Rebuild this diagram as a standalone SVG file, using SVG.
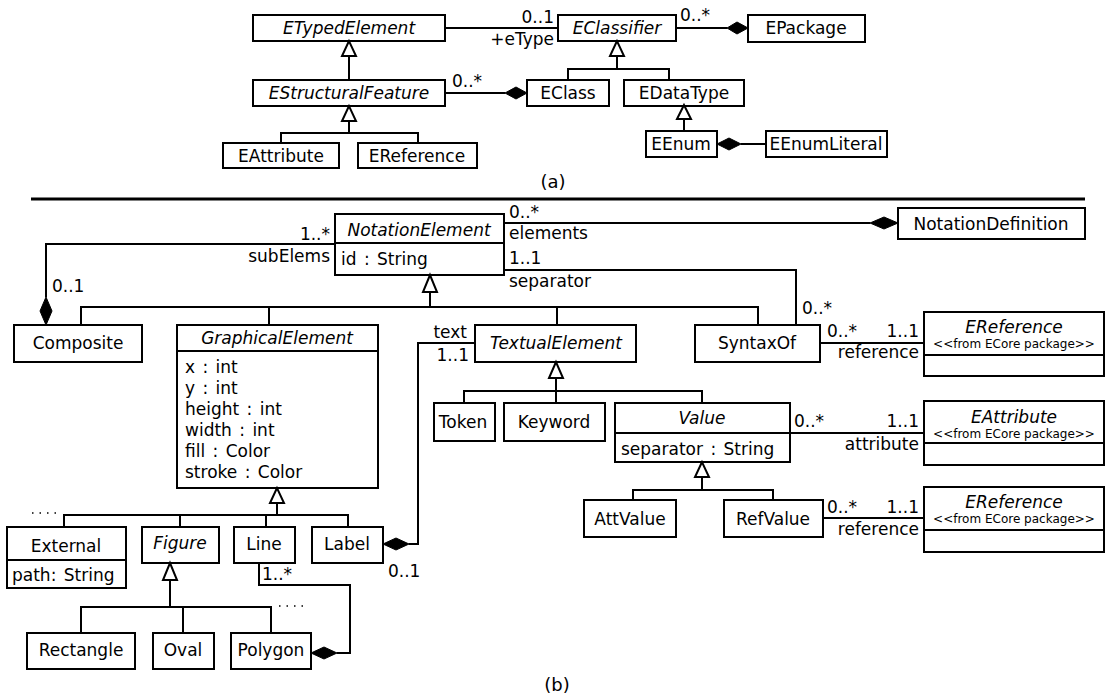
<svg xmlns="http://www.w3.org/2000/svg" width="1113" height="696" viewBox="0 0 1113 696">
<style>
.box{fill:#fff;stroke:#000;stroke-width:2}
.ln{fill:none;stroke:#000;stroke-width:2}
.tri{fill:#fff;stroke:#000;stroke-width:2;stroke-linejoin:miter}
.dia{fill:#000;stroke:#000;stroke-width:1}
text{font-family:"DejaVu Sans",Verdana,sans-serif;font-size:17px;fill:#000}
.i{font-style:italic}
.c{text-anchor:middle}
.r{text-anchor:end}
.st{font-size:12px}
.at{word-spacing:2px}
.dots{fill:none;stroke:#000;stroke-width:1.5;stroke-dasharray:1.5 6}
</style>
<rect width="1113" height="696" fill="#fff"/>

<!-- ===== (a) ===== -->
<g id="ETypedElement"><rect class="box" x="253" y="15" width="192" height="26"/><text class="c i" x="349" y="34">ETypedElement</text></g>
<g id="EClassifier"><rect class="box" x="558" y="15" width="118" height="26"/><text class="c i" x="617" y="34">EClassifier</text></g>
<g id="EPackage"><rect class="box" x="748" y="15" width="117" height="27"/><text class="c" x="806" y="34">EPackage</text></g>
<g id="EStructuralFeature"><rect class="box" x="253" y="80" width="192" height="26"/><text class="c i" x="349" y="99">EStructuralFeature</text></g>
<g id="EClass"><rect class="box" x="527" y="80" width="82" height="26"/><text class="c" x="568" y="99">EClass</text></g>
<g id="EDataType"><rect class="box" x="624" y="80" width="120" height="26"/><text class="c" x="684" y="99">EDataType</text></g>
<g id="EEnum"><rect class="box" x="646" y="131" width="71" height="26"/><text class="c" x="681" y="150">EEnum</text></g>
<g id="EEnumLiteral"><rect class="box" x="766" y="131" width="121" height="26"/><text class="c" x="826" y="150">EEnumLiteral</text></g>
<g id="EAttributeA"><rect class="box" x="223" y="143" width="116" height="25"/><text class="c" x="281" y="162">EAttribute</text></g>
<g id="EReferenceA"><rect class="box" x="358" y="143" width="119" height="25"/><text class="c" x="417" y="162">EReference</text></g>

<g id="connectorsA">
<line class="ln" x1="445" y1="28" x2="558" y2="28"/>
<text class="r" x="554" y="23">0..1</text>
<text class="r" x="554" y="45">+eType</text>
<line class="ln" x1="676" y1="28" x2="727" y2="28"/>
<polygon class="dia" points="727,28 737,22 748,28 737,34"/>
<text x="680" y="21">0..*</text>
<polyline class="ln" points="617,56 617,69"/>
<polyline class="ln" points="568,80 568,69 669,69 669,80"/>
<polygon class="tri" points="617,41 610,56 624,56"/>
<line class="ln" x1="445" y1="93" x2="505" y2="93"/>
<polygon class="dia" points="505,93 516,87 527,93 516,99"/>
<text x="452" y="87">0..*</text>
<line class="ln" x1="349" y1="56" x2="349" y2="80"/>
<polygon class="tri" points="349,41 342,56 356,56"/>
<line class="ln" x1="349" y1="121" x2="349" y2="133"/>
<polyline class="ln" points="281,143 281,133 418,133 418,143"/>
<polygon class="tri" points="349,106 342,121 356,121"/>
<line class="ln" x1="684" y1="119" x2="684" y2="131"/>
<polygon class="tri" points="684,105 677,119 691,119"/>
<line class="ln" x1="741" y1="144" x2="766" y2="144"/>
<polygon class="dia" points="717,144 729,138 741,144 729,150"/>
</g>
<text class="c" x="553" y="188" style="font-size:18px">(a)</text>

<line x1="31" y1="199" x2="1085" y2="199" stroke="#000" stroke-width="3"/>

<!-- ===== (b) ===== -->
<g id="NotationElement"><rect class="box" x="335" y="214" width="169" height="61"/><line class="ln" x1="335" y1="243" x2="504" y2="243"/><text class="c i" x="419" y="236">NotationElement</text><text class="at" x="341" y="265">id : String</text></g>
<g id="NotationDefinition"><rect class="box" x="898" y="208" width="187" height="31"/><text class="c" x="991" y="230">NotationDefinition</text></g>
<g id="Composite"><rect class="box" x="14" y="325" width="128" height="37"/><text class="c" x="78" y="349">Composite</text></g>
<g id="GraphicalElement"><rect class="box" x="177" y="325" width="201" height="163"/><line class="ln" x1="177" y1="351" x2="378" y2="351"/><text class="c i" x="277" y="344">GraphicalElement</text>
<text class="at" x="185" y="373">x : int</text><text class="at" x="185" y="394">y : int</text><text class="at" x="185" y="415">height : int</text><text class="at" x="185" y="436">width : int</text><text class="at" x="185" y="457">fill : Color</text><text class="at" x="185" y="478">stroke : Color</text></g>
<g id="TextualElement"><rect class="box" x="475" y="325" width="161" height="37"/><text class="c i" x="556" y="349">TextualElement</text></g>
<g id="SyntaxOf"><rect class="box" x="695" y="325" width="125" height="37"/><text class="c" x="757" y="349">SyntaxOf</text></g>
<g id="EReference1"><rect class="box" x="924" y="312" width="180" height="64"/><line class="ln" x1="924" y1="355" x2="1104" y2="355"/><text class="c i" x="1014" y="333">EReference</text><text class="c st" x="1014" y="348">&lt;&lt;from ECore package&gt;&gt;</text></g>
<g id="Token"><rect class="box" x="434" y="403" width="61" height="38"/><text class="c" x="463" y="428">Token</text></g>
<g id="Keyword"><rect class="box" x="504" y="403" width="101" height="38"/><text class="c" x="554" y="428">Keyword</text></g>
<g id="Value"><rect class="box" x="615" y="403" width="175" height="59"/><line class="ln" x1="615" y1="433" x2="790" y2="433"/><text class="c i" x="702" y="424">Value</text><text class="at" x="621" y="455">separator : String</text></g>
<g id="EAttribute2"><rect class="box" x="924" y="401" width="180" height="64"/><line class="ln" x1="924" y1="443" x2="1104" y2="443"/><text class="c i" x="1014" y="423">EAttribute</text><text class="c st" x="1014" y="438">&lt;&lt;from ECore package&gt;&gt;</text></g>
<g id="AttValue"><rect class="box" x="584" y="500" width="92" height="37"/><text class="c" x="630" y="525">AttValue</text></g>
<g id="RefValue"><rect class="box" x="724" y="500" width="99" height="37"/><text class="c" x="773" y="525">RefValue</text></g>
<g id="EReference2"><rect class="box" x="924" y="487" width="180" height="65"/><line class="ln" x1="924" y1="530" x2="1104" y2="530"/><text class="c i" x="1014" y="508">EReference</text><text class="c st" x="1014" y="523">&lt;&lt;from ECore package&gt;&gt;</text></g>
<g id="External"><rect class="box" x="7" y="527" width="119" height="61"/><line class="ln" x1="7" y1="560" x2="126" y2="560"/><text class="c" x="66" y="552">External</text><text class="at" x="12" y="581">path: String</text></g>
<g id="Figure"><rect class="box" x="142" y="527" width="77" height="36"/><text class="c i" x="180" y="549">Figure</text></g>
<g id="Line"><rect class="box" x="234" y="527" width="61" height="36"/><text class="c" x="264" y="550">Line</text></g>
<g id="Label"><rect class="box" x="312" y="527" width="71" height="36"/><text class="c" x="347" y="550">Label</text></g>
<g id="Rectangle"><rect class="box" x="27" y="633" width="108" height="36"/><text class="c" x="81" y="656">Rectangle</text></g>
<g id="Oval"><rect class="box" x="153" y="633" width="61" height="36"/><text class="c" x="183" y="656">Oval</text></g>
<g id="Polygon"><rect class="box" x="231" y="633" width="80" height="36"/><text class="c" x="271" y="656">Polygon</text></g>

<g id="connectorsB">
<!-- elements -->
<line class="ln" x1="504" y1="223" x2="870" y2="223"/>
<polygon class="dia" points="870,223 884,217 898,223 884,229"/>
<text x="509" y="218">0..*</text>
<text x="509" y="239">elements</text>
<!-- separator -->
<polyline class="ln" points="504,270 796,270 796,325"/>
<text x="509" y="264">1..1</text>
<text x="509" y="287">separator</text>
<text x="802" y="314">0..*</text>
<!-- subElems -->
<polyline class="ln" points="335,244 46,244 46,297"/>
<polygon class="dia" points="46,297 52,311 46,325 40,311"/>
<text class="r" x="330" y="240">1..*</text>
<text class="r" x="330" y="262">subElems</text>
<text x="52" y="292">0..1</text>
<!-- generalization NotationElement -->
<line class="ln" x1="430" y1="292" x2="430" y2="307"/>
<polyline class="ln" points="81,325 81,307 758,307 758,325"/>
<line class="ln" x1="269" y1="307" x2="269" y2="325"/>
<line class="ln" x1="557" y1="307" x2="557" y2="325"/>
<polygon class="tri" points="430,275 423,292 437,292"/>
<!-- text -->
<polyline class="ln" points="475,343 418,343 418,544 409,544"/>
<polygon class="dia" points="383,544 396,538 409,544 396,550"/>
<text class="r" x="467" y="338">text</text>
<text class="r" x="469" y="361">1..1</text>
<text x="388" y="577">0..1</text>
<!-- generalization TextualElement -->
<line class="ln" x1="556" y1="378" x2="556" y2="403"/>
<polyline class="ln" points="464,403 464,391 702,391 702,403"/>
<polygon class="tri" points="556,362 549,378 563,378"/>
<!-- SyntaxOf reference -->
<line class="ln" x1="820" y1="343" x2="924" y2="343"/>
<text x="827" y="337">0..*</text>
<text class="r" x="919" y="337">1..1</text>
<text class="r" x="919" y="358">reference</text>
<!-- Value attribute -->
<line class="ln" x1="790" y1="433" x2="924" y2="433"/>
<text x="794" y="427">0..*</text>
<text class="r" x="919" y="427">1..1</text>
<text class="r" x="919" y="450">attribute</text>
<!-- generalization Value -->
<line class="ln" x1="702" y1="477" x2="702" y2="490"/>
<polyline class="ln" points="633,500 633,490 773,490 773,500"/>
<polygon class="tri" points="702,462 695,477 709,477"/>
<!-- RefValue reference -->
<line class="ln" x1="823" y1="518" x2="924" y2="518"/>
<text x="827" y="513">0..*</text>
<text class="r" x="919" y="513">1..1</text>
<text class="r" x="919" y="535">reference</text>
<!-- generalization GraphicalElement -->
<line class="ln" x1="277" y1="503" x2="277" y2="515"/>
<polyline class="ln" points="64,527 64,515 348,515 348,527"/>
<line class="ln" x1="180" y1="515" x2="180" y2="527"/>
<line class="ln" x1="266" y1="515" x2="266" y2="527"/>
<polygon class="tri" points="277,488 270,503 284,503"/>
<line class="dots" x1="32" y1="513" x2="58" y2="513"/>
<!-- Line - Polygon -->
<polyline class="ln" points="259,563 259,585 350,585 350,653 337,653"/>
<polygon class="dia" points="311,653 324,647 337,653 324,659"/>
<text x="262" y="580">1..*</text>
<!-- generalization Figure -->
<line class="ln" x1="170" y1="580" x2="170" y2="607"/>
<polyline class="ln" points="81,633 81,607 271,607 271,633"/>
<line class="ln" x1="183" y1="607" x2="183" y2="633"/>
<polygon class="tri" points="170,563 163,580 177,580"/>
<line class="dots" x1="279" y1="606" x2="305" y2="606"/>
</g>
<text class="c" x="557" y="691" style="font-size:18px">(b)</text>
</svg>
